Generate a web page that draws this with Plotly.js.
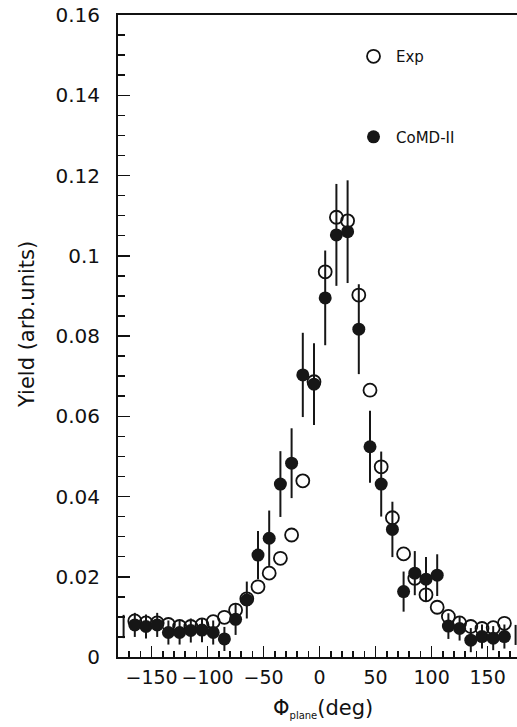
<!DOCTYPE html>
<html>
<head>
<meta charset="utf-8">
<script src="https://cdn.plot.ly/plotly-3.0.1.min.js"></script>
<style>html,body{margin:0;padding:0;background:#fff;}#chart{width:517px;height:727px;}</style>
</head>
<body>
<div id="chart"></div>
<script>
// Exp (open circles), bin centres in degrees
var expPhi = [-165,-155,-145,-135,-125,-115,-105,-95,-85,-75,-65,-55,-45,-35,-25,-15,-5,5,15,25,35,45,55,65,75,85,95,105,115,125,135,145,155,165];
var expYield = [0.0090,0.0085,0.0085,0.0081,0.0076,0.0076,0.0080,0.0088,0.0099,0.0117,0.0145,0.0175,0.0209,0.0246,0.0304,0.0439,0.0686,0.0960,0.1096,0.1087,0.0902,0.0665,0.0474,0.0347,0.0257,0.0196,0.0155,0.0124,0.0101,0.0085,0.0076,0.0071,0.0073,0.0084];

// CoMD-II (filled circles) with statistical errors
var comdPhi = [-175,-165,-155,-145,-135,-125,-115,-105,-95,-85,-75,-65,-55,-45,-35,-25,-15,-5,5,15,25,35,45,55,65,75,85,95,105,115,125,135,145,155,165,175];
var comdYield = [0.0076,0.0080,0.0076,0.0080,0.0061,0.0061,0.0066,0.0067,0.0061,0.0045,0.0094,0.0142,0.0254,0.0296,0.0431,0.0483,0.0703,0.0680,0.0895,0.1052,0.1060,0.0817,0.0524,0.0431,0.0318,0.0163,0.0209,0.0194,0.0204,0.0077,0.0071,0.0042,0.0051,0.0047,0.0051,0.0055];
var comdErr = [0.0029,0.0030,0.0030,0.0030,0.0030,0.0030,0.0030,0.0030,0.0030,0.0030,0.0039,0.0046,0.0060,0.0069,0.0082,0.0087,0.0105,0.0102,0.0118,0.0127,0.0128,0.0112,0.0090,0.0081,0.0069,0.0050,0.0055,0.0055,0.0052,0.0032,0.0030,0.0030,0.0030,0.0030,0.0030,0.0025];

var xTickVals = [-150,-100,-50,0,50,100,150];
var yTickVals = [0,0.02,0.04,0.06,0.08,0.1,0.12,0.14,0.16];
var yTickText = ['0','0.02','0.04','0.06','0.08','0.1','0.12','0.14','0.16'];

var xTitle = 'Φ<sub><span style="font-size:10px">plane</span></sub>(deg)';
var yTitle = 'Yield (arb.units)';

// split CoMD into in-frame markers and edge bins (only error bars visible)
var inX=[],inY=[],inE=[],edX=[],edY=[],edE=[];
comdPhi.forEach(function(x,i){
  if (Math.abs(x) > 170) { edX.push(x); edY.push(comdYield[i]); edE.push(comdErr[i]); }
  else { inX.push(x); inY.push(comdYield[i]); inE.push(comdErr[i]); }
});

var FONT = 'DejaVu Sans, Liberation Sans, Arial, sans-serif';

var traces = [
  {
    x: expPhi, y: expYield, type: 'scatter', mode: 'markers', name: 'Exp',
    legendgroup: 'a',
    marker: {symbol: 'circle-open', size: 13, color: '#111', line: {width: 1.8, color: '#111'}}
  },
  {
    x: inX, y: inY, type: 'scatter', mode: 'markers', name: 'CoMD-II',
    legendgroup: 'b',
    marker: {symbol: 'circle', size: 13, color: '#161616'},
    error_y: {type: 'data', array: inE, visible: true, width: 0, thickness: 2, color: '#161616'}
  },
  {
    x: edX, y: edY, type: 'scatter', mode: 'markers', showlegend: false,
    marker: {symbol: 'circle', size: 13, color: 'rgba(0,0,0,0)'},
    error_y: {type: 'data', array: edE, visible: true, width: 0, thickness: 2, color: '#161616'}
  }
];

var layout = {
  width: 517, height: 727,
  margin: {l: 118, r: 0, t: 15, b: 70},
  paper_bgcolor: '#fff', plot_bgcolor: '#fff',
  font: {family: FONT, color: '#111', size: 19},
  showlegend: true,
  legend: {
    x: 0.584, xanchor: 'left', y: 0.961, yanchor: 'top',
    bgcolor: 'rgba(0,0,0,0)', borderwidth: 0,
    font: {family: FONT, size: 15, color: '#111'},
    tracegroupgap: 58, traceorder: 'grouped', itemwidth: 35
  },
  xaxis: {
    range: [-180, 176.25], autorange: false,
    tickmode: 'array', tickvals: xTickVals,
    ticks: 'inside', ticklen: 11, tickwidth: 1.5, tickcolor: '#111',
    minor: {dtick: 10, tick0: 0, ticks: 'inside', ticklen: 6, tickwidth: 1.5, tickcolor: '#111'},
    showline: true, linewidth: 2, linecolor: '#111', mirror: true,
    showgrid: false, zeroline: false,
    tickfont: {family: FONT, size: 19, color: '#111'},
    ticklabelstandoff: 2
  },
  yaxis: {
    range: [0, 0.16], autorange: false,
    tickmode: 'array', tickvals: yTickVals, ticktext: yTickText,
    ticks: 'inside', ticklen: 12, tickwidth: 1.5, tickcolor: '#111',
    minor: {dtick: 0.005, tick0: 0, ticks: 'inside', ticklen: 7, tickwidth: 1.5, tickcolor: '#111'},
    showline: true, linewidth: 2, linecolor: '#111', mirror: false,
    showgrid: false, zeroline: false,
    tickfont: {family: FONT, size: 20, color: '#111'},
    ticklabelstandoff: 12
  },
  annotations: [
    {text: xTitle, xref: 'paper', yref: 'paper', x: (323 - 118) / 399, y: (657 - 708) / 642,
     xanchor: 'center', yanchor: 'middle', showarrow: false,
     font: {family: FONT, size: 21, color: '#111'}},
    {text: yTitle, xref: 'paper', yref: 'paper', x: (27 - 118) / 399, y: (657 - 325) / 642,
     xanchor: 'center', yanchor: 'middle', showarrow: false, textangle: -90,
     font: {family: FONT, size: 21, color: '#111'}}
  ]
};

Plotly.newPlot('chart', traces, layout, {displayModeBar: false, staticPlot: true});
</script>
</body>
</html>
